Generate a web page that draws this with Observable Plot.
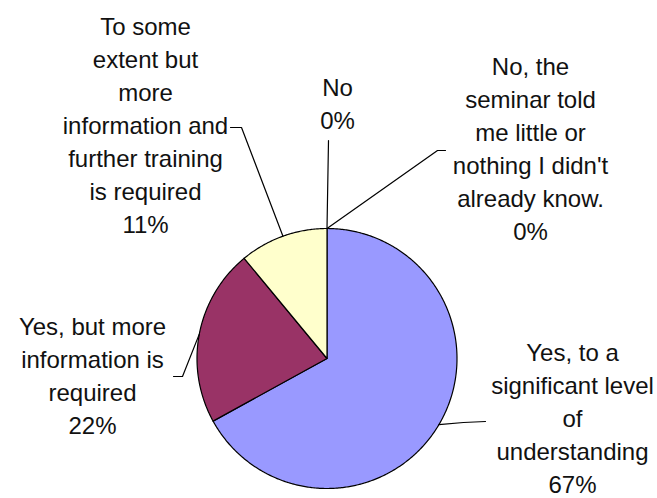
<!DOCTYPE html>
<html><head><meta charset="utf-8">
<script src="https://cdn.jsdelivr.net/npm/d3@7"></script>
<script src="https://cdn.jsdelivr.net/npm/@observablehq/plot@0.6"></script>
<style>body{margin:0;background:#fff}</style>
</head><body><div id="chart"></div>
<script>
// ---- data ----
const categories = [
  "Yes, to a\nsignificant level\nof\nunderstanding",
  "Yes, but more\ninformation is\nrequired",
  "To some\nextent but\nmore\ninformation and\nfurther training\nis required",
  "No",
  "No, the\nseminar told\nme little or\nnothing I didn't\nalready know."
];
const values = [67, 22, 11, 0, 0];
const colors = ["#9999FF", "#993366", "#FFFFCC", "#CCFFFF", "#660066"];

// ---- layout (pixels) ----
const W = 657, H = 498, CX = 326.5, CY = 358, R = 130;
const labelX = [572, 92, 145, 337, 530];
const labelY = [416, 373.5, 123, 101, 146];
// leader line start points near each label (pixels)
const leaderStart = [
  [[485, 421], [463, 422]],
  [[173, 376], [182, 376]],
  [[230, 127], [241, 127]],
  [[328, 140]],
  [[445, 150], [437, 150]]
];

const toX = px => (px - CX) / R;
const toY = py => (CY - py) / R;

const arcs = d3.pie().sort(null).value(d => d)(values);

// slice polygons in unit-circle space
const slicePts = [];
arcs.forEach((a, i) => {
  if (a.endAngle - a.startAngle <= 0) return;
  const k = categories[i];
  slicePts.push({k, x: 0, y: 0});
  const n = Math.max(2, Math.ceil((a.endAngle - a.startAngle) / 0.01));
  for (let j = 0; j <= n; j++) {
    const t = a.startAngle + (a.endAngle - a.startAngle) * j / n;
    slicePts.push({k, x: Math.sin(t), y: Math.cos(t)});
  }
});

// leader lines
const leaderPts = [];
arcs.forEach((a, i) => {
  const mid = (a.startAngle + a.endAngle) / 2;
  leaderStart[i].forEach(([px, py]) => leaderPts.push({k: i, x: toX(px), y: toY(py)}));
  leaderPts.push({k: i, x: Math.sin(mid), y: Math.cos(mid)});
});

const labels = categories.map((c, i) => ({
  text: c + "\n" + values[i] + "%",
  x: toX(labelX[i]),
  y: toY(labelY[i])
}));

const chart = Plot.plot({
  width: W, height: H, margin: 0,
  style: {background: "#fff"},
  x: {domain: [toX(0), toX(W)], axis: null},
  y: {domain: [toY(H), toY(0)], axis: null},
  color: {domain: categories, range: colors},
  marks: [
    Plot.line(slicePts, {x: "x", y: "y", z: "k", fill: "k", stroke: "black", strokeWidth: 1.2, curve: "linear-closed", strokeLinejoin: "round"}),
    Plot.line(leaderPts, {x: "x", y: "y", z: "k", stroke: "black", strokeWidth: 1.2}),
    Plot.text(labels, {x: "x", y: "y", text: "text", textAnchor: "middle", lineAnchor: "middle", lineHeight: 1.375, fontSize: 24, fontFamily: "Liberation Sans, Arial, sans-serif", fill: "#111"})
  ]
});
document.getElementById("chart").appendChild(chart);
</script>
</body></html>
